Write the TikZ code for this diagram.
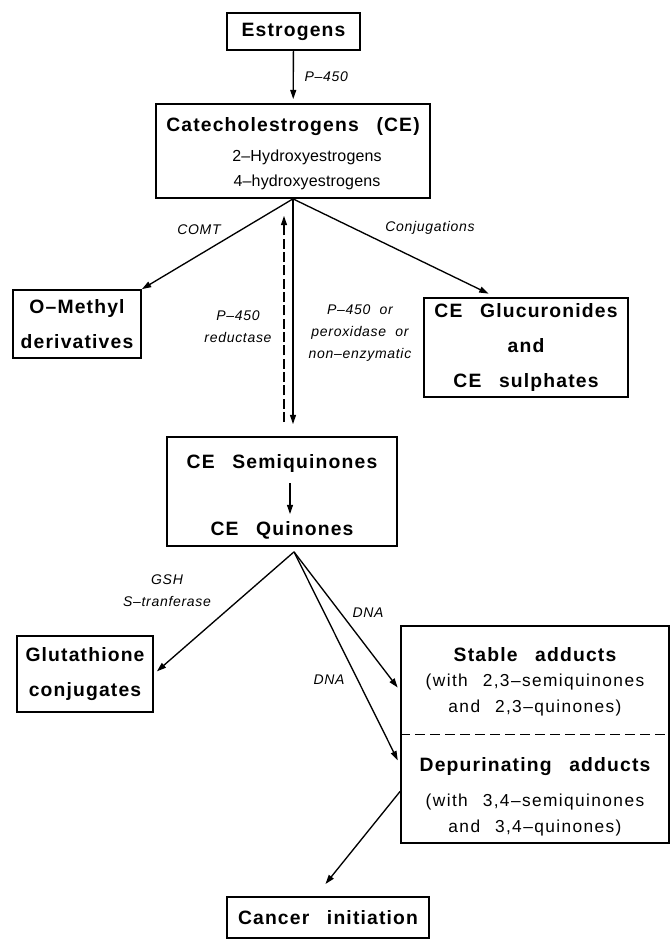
\documentclass[tikz,border=0pt]{standalone}
\usepackage{fontspec}
\setmainfont{Liberation Sans}
\newfontfamily\boxfont{Liberation Sans}[LetterSpace=6,WordSpace=2.7]
\newfontfamily\subfont{Liberation Sans}[LetterSpace=8,WordSpace=2.4]
\newfontfamily\hydfont{Liberation Sans}[LetterSpace=1]
\newfontfamily\labfont{Liberation Sans}[LetterSpace=5,WordSpace=2]
\usetikzlibrary{arrows.meta,calc}

\tikzset{every picture/.style={line width=1pt}}
\tikzset{
  boxtxt/.style={inner sep=0.75pt,align=center,font=\boxfont\bfseries\fontsize{14.5}{26}\selectfont},
  pbox/.style={boxtxt,draw,line width=1.3pt},
  subtxt/.style={inner sep=0.75pt,align=center,font=\subfont\fontsize{13}{19.5}\selectfont},
  lab/.style={inner sep=0.75pt,align=center,font=\labfont\itshape\fontsize{10.5}{16.5}\selectfont},
  arr/.style={-{Triangle[length=7pt,width=4.5pt]},line width=1pt}
}

\begin{document}
\begin{tikzpicture}[x=0.75pt,y=0.75pt,yscale=-1,xscale=1]
\useasboundingbox (0,0) rectangle (670,940);

%Boxes
\node [pbox,minimum width=99.75pt,minimum height=27.75pt] (estr) at (293.5,31.5) {Estrogens};
\node [pbox,minimum width=205.5pt,minimum height=70.5pt] (cat) at (293,151) {};
\node [boxtxt] (cattitle) at (293,127) {Catecholestrogens (CE)};
\node [subtxt,font=\hydfont\fontsize{12}{12}\selectfont] (cathyda) at (307,157) {2\textendash Hydroxyestrogens};
\node [subtxt,font=\hydfont\fontsize{12}{12}\selectfont] (cathydb) at (307,182) {4\textendash hydroxyestrogens};
\node [pbox,minimum width=96pt,minimum height=51pt] (omethyl) at (77,324) {O\textendash Methyl\\derivatives};
\node [pbox,minimum width=153pt,minimum height=74.25pt] (ceg) at (526,347.5) {CE Glucuronides\\and\\CE sulphates};
\node [pbox,minimum width=172.5pt,minimum height=81.75pt] (semibox) at (282,491.5) {};
\node [boxtxt] (semi) at (282,463) {CE Semiquinones};
\node [boxtxt] (quin) at (282,530) {CE Quinones};
\node [pbox,minimum width=102pt,minimum height=57pt] (glut) at (85,674) {Glutathione\\conjugates};
\node [pbox,minimum width=201pt,minimum height=162.75pt] (adbox) at (535,734.5) {};
\node [boxtxt] (stable) at (535,655) {Stable adducts};
\node [subtxt] (stablesub) at (535,695.5) {(with 2,3\textendash semiquinones\\and 2,3\textendash quinones)};
\node [boxtxt] (depur) at (535,767) {Depurinating adducts};
\node [subtxt] (depursub) at (535,815.5) {(with 3,4\textendash semiquinones\\and 3,4\textendash quinones)};
\node [pbox,minimum width=151.5pt,minimum height=30.75pt] (cancer) at (328,917.5) {Cancer initiation};

% Text Node
\node [lab,anchor=west] (lp450) at (303,77) {P\textendash 450};
\node [lab] (lcomt) at (199,230) {COMT};
\node [lab] (lconj) at (430,228) {Conjugations};
\node [lab] (lred) at (238,327) {P\textendash 450\\reductase};
\node [lab] (lox) at (360,333) {P\textendash 450 or\\peroxidase or\\non\textendash enzymatic};
\node [lab] (lgsh) at (167,591) {GSH\\S\textendash tranferase};
\node [lab] (ldnaa) at (368,613) {DNA};
\node [lab] (ldnab) at (329,680) {DNA};

%Arrows
\coordinate (quinapex) at ($(semibox.south)+(12,5)$);
\draw [arr,shorten >=3pt] (estr) -- (cat);
\draw [arr] (cat.south) -- (omethyl.north east);
\draw [arr,shorten >=6pt] (cat.south) -- (ceg.121);
\draw [arr,shorten >=9pt] (cat.south) -- (cat.south |- semibox.north);
\draw [arr,dash pattern=on 7.5pt off 2.5pt,shorten <=10.5pt,shorten >=12.75pt] ($(cat.south |- semibox.north)+(-9,0)$) -- ($(cat.south)+(-9,0)$);
\draw [arr,shorten <=7pt,shorten >=4pt] ($(semi.south)+(8,0)$) -- ($(quin.north)+(8,0)$);
\draw [arr,shorten >=3pt] (quinapex) -- (glut.east);
\draw [arr,shorten >=3pt] (quinapex) -- ($(adbox.north west)!0.3!(adbox.south west)$);
\draw [arr,shorten >=4pt] (quinapex) -- ($(adbox.north west)!0.64!(adbox.south west)$);
\draw [arr,shorten >=11.7pt] ($(adbox.north west)!0.76!(adbox.south west)$) -- (cancer.120);
\draw [dash pattern=on 7.5pt off 3.75pt] (adbox.west) -- (adbox.east);

\end{tikzpicture}
\end{document}
